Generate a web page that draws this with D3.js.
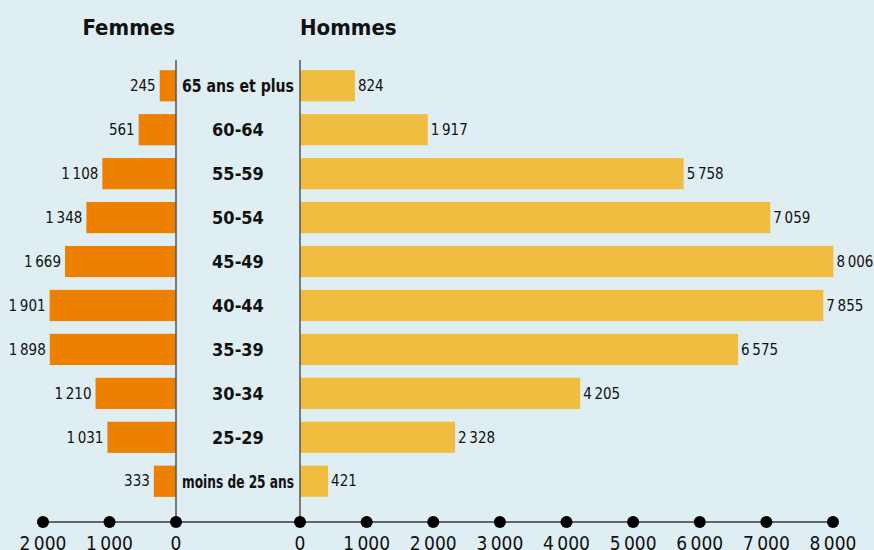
<!DOCTYPE html>
<html lang="fr">
<head>
    <meta charset="UTF-8">
    <title>Pyramide</title>
    <script src="https://cdn.jsdelivr.net/npm/d3@7"></script>
    <style>
        html, body {
            margin: 0;
            padding: 0;
            background: #dfeef2;
            overflow: hidden;
        }
        svg text {
            font-family: "DejaVu Sans Condensed", "DejaVu Sans", sans-serif;
            font-stretch: condensed;
            fill: #111;
        }
        .title { font-size: 22px; font-weight: bold; }
        .cat { font-size: 18px; font-weight: bold; }
        .val { font-size: 15px; }
        .tick-label { font-size: 19px; }
    </style>
</head>
<body>
<script>
    // données
    const ages = ['65 ans et plus', '60-64', '55-59', '50-54', '45-49', '40-44', '35-39', '30-34', '25-29', 'moins de 25 ans'];
    const femmes = [245, 561, 1108, 1348, 1669, 1901, 1898, 1210, 1031, 333];
    const hommes = [824, 1917, 5758, 7059, 8006, 7855, 6575, 4205, 2328, 421];
    const ticksFemmes = [0, 1000, 2000];
    const ticksHommes = [0, 1000, 2000, 3000, 4000, 5000, 6000, 7000, 8000];

    const width = 874, height = 550;
    const fr = d3.formatLocale({decimal: ',', thousands: '\u2009', grouping: [3], currency: ['', ' €']});
    const fmt = fr.format(',d');

    const svg = d3.select('body').append('svg')
        .attr('width', width)
        .attr('height', height);

    // échelles
    const xF = d3.scaleLinear().domain([0, 2000]).range([176, 43]);
    const xH = d3.scaleLinear().domain([0, 8000]).range([300, 833]);
    const y = d3.scaleBand().domain(ages).range([64, 503]).paddingInner(0.29).paddingOuter(0.14);
    const axisY = 522;

    // titres
    svg.append('text').attr('class', 'title')
        .attr('x', 175).attr('y', 35).attr('text-anchor', 'end').text('Femmes');
    svg.append('text').attr('class', 'title')
        .attr('x', 300).attr('y', 35).text('Hommes');

    // barres femmes
    svg.append('g').selectAll('rect')
        .data(ages)
        .join('rect')
        .attr('x', (d, i) => xF(femmes[i]))
        .attr('y', d => y(d))
        .attr('width', (d, i) => xF(0) - xF(femmes[i]))
        .attr('height', y.bandwidth())
        .attr('fill', '#ee8000');

    // barres hommes
    svg.append('g').selectAll('rect')
        .data(ages)
        .join('rect')
        .attr('x', xH(0))
        .attr('y', d => y(d))
        .attr('width', (d, i) => xH(hommes[i]) - xH(0))
        .attr('height', y.bandwidth())
        .attr('fill', '#f0bd40');

    // valeurs
    svg.append('g').selectAll('text')
        .data(ages)
        .join('text')
        .attr('class', 'val')
        .attr('x', (d, i) => xF(femmes[i]) - 4)
        .attr('y', d => y(d) + y.bandwidth() / 2)
        .attr('dy', '0.35em')
        .attr('text-anchor', 'end')
        .text((d, i) => fmt(femmes[i]));

    svg.append('g').selectAll('text')
        .data(ages)
        .join('text')
        .attr('class', 'val')
        .attr('x', (d, i) => xH(hommes[i]) + 3)
        .attr('y', d => y(d) + y.bandwidth() / 2)
        .attr('dy', '0.35em')
        .text((d, i) => fmt(hommes[i]));

    // catégories (les libellés longs sont resserrés pour tenir entre les deux axes)
    svg.append('g').selectAll('text')
        .data(ages)
        .join('text')
        .attr('class', 'cat')
        .attr('x', 238)
        .attr('y', d => y(d) + y.bandwidth() / 2)
        .attr('dy', '0.35em')
        .attr('text-anchor', 'middle')
        .text(d => d)
        .each(function () {
            if (this.getComputedTextLength() > 112) {
                d3.select(this)
                    .attr('textLength', 112)
                    .attr('lengthAdjust', 'spacingAndGlyphs');
            }
        });

    // axes
    const axes = svg.append('g');
    axes.append('line')
        .attr('x1', xF(2000)).attr('x2', xH(8000))
        .attr('y1', axisY).attr('y2', axisY)
        .attr('stroke', '#666').attr('stroke-width', 2);
    [xF(0), xH(0)].forEach(x => {
        axes.append('line')
            .attr('x1', x).attr('x2', x)
            .attr('y1', 60).attr('y2', axisY)
            .attr('stroke', '#555').attr('stroke-width', 1.5);
    });

    const ticks = ticksFemmes.map(v => ({v, x: xF(v)}))
        .concat(ticksHommes.map(v => ({v, x: xH(v)})));
    axes.selectAll('circle')
        .data(ticks)
        .join('circle')
        .attr('cx', d => d.x)
        .attr('cy', axisY)
        .attr('r', 6)
        .attr('fill', '#000');
    axes.selectAll('text')
        .data(ticks)
        .join('text')
        .attr('class', 'tick-label')
        .attr('x', d => d.x)
        .attr('y', axisY + 28)
        .attr('text-anchor', 'middle')
        .text(d => fmt(d.v));
</script>
</body>
</html>
